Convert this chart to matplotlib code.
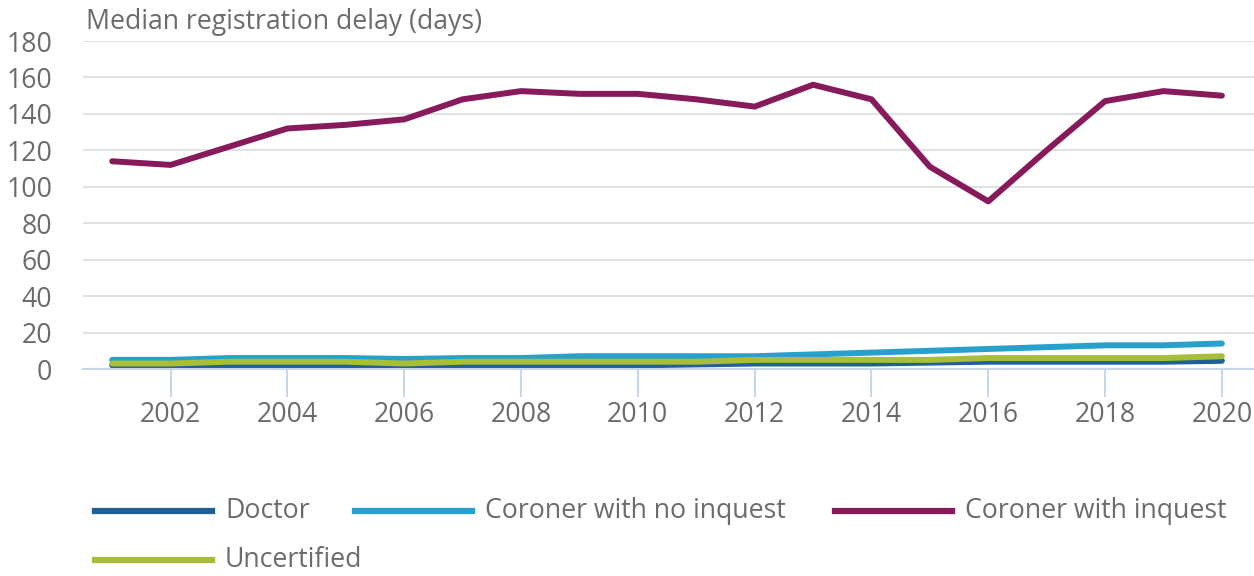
import matplotlib.pyplot as plt
from matplotlib.lines import Line2D

plt.rcParams['font.family'] = ['Open Sans', 'DejaVu Sans']

years = list(range(2001, 2021))
doctor = [2, 2, 2, 2, 2, 2, 2, 2, 2, 2, 2.5, 3, 3, 3, 3.5, 4, 4, 4, 4, 4.5]
no_inquest = [5, 5, 6, 6, 6, 5.5, 6, 6, 7, 7, 7, 7, 8, 9, 10, 11, 12, 13, 13, 14]
inquest = [114, 112, 122, 132, 134, 137, 148, 152.5, 151, 151, 148, 144, 156, 148, 111, 92, 120, 147, 152.5, 150]
uncertified = [3, 3, 4, 4, 4, 3, 4, 4, 4, 4, 4, 5, 5, 5, 5, 6, 6, 6, 6, 7]

names = ['Doctor', 'Coroner with no inquest', 'Coroner with inquest', 'Uncertified']
colors = ['#206095', '#27a0cc', '#871a5b', '#a8bd3a']
values = [doctor, no_inquest, inquest, uncertified]

W, H = 1254, 576
txt = '#6b6b6b'
fs = 19.2
fig = plt.figure(figsize=(W / 100, H / 100), dpi=100)
ax = fig.add_axes([83/W, 1 - 369/H, (W - 83)/W, (369 - 41)/H])

for name, vals, col in zip(names, values, colors):
    ax.plot(years, vals, color=col, linewidth=4.3, solid_capstyle='round', label=name)

ax.set_xlim(2000.5, 2020.55)
ax.set_ylim(0, 180)
ax.set_yticks(range(0, 181, 20))
ax.set_xticks(range(2002, 2021, 2))
ax.grid(axis='y', color='#e2e2e2', linewidth=1.5)
ax.set_axisbelow(True)
for s in ['top', 'right', 'left']:
    ax.spines[s].set_visible(False)
ax.spines['bottom'].set_color('#c9d6ea')
ax.spines['bottom'].set_linewidth(1.5)
ax.tick_params(axis='y', length=0, labelsize=fs, labelcolor=txt, pad=22)
ax.tick_params(axis='x', length=20, width=1.5, color='#c9d6ea', labelsize=fs, labelcolor=txt, pad=3)

fig.text(86/W, 1 - 22/H, 'Median registration delay (days)', fontsize=fs, color=txt, va='center', ha='left')

# legend laid out as a flowing row, like the original
legend_pos = [(95, 511), (355, 511), (835, 511), (95, 560)]
for (x0, y0), name, col in zip(legend_pos, names, colors):
    fig.add_artist(Line2D([x0/W, (x0 + 117)/W], [1 - y0/H, 1 - y0/H], color=col, linewidth=4.5,
                          transform=fig.transFigure))
    fig.text((x0 + 130)/W, 1 - y0/H, name, fontsize=fs, color=txt, va='center', ha='left')

fig.savefig('out.png', dpi=100)
